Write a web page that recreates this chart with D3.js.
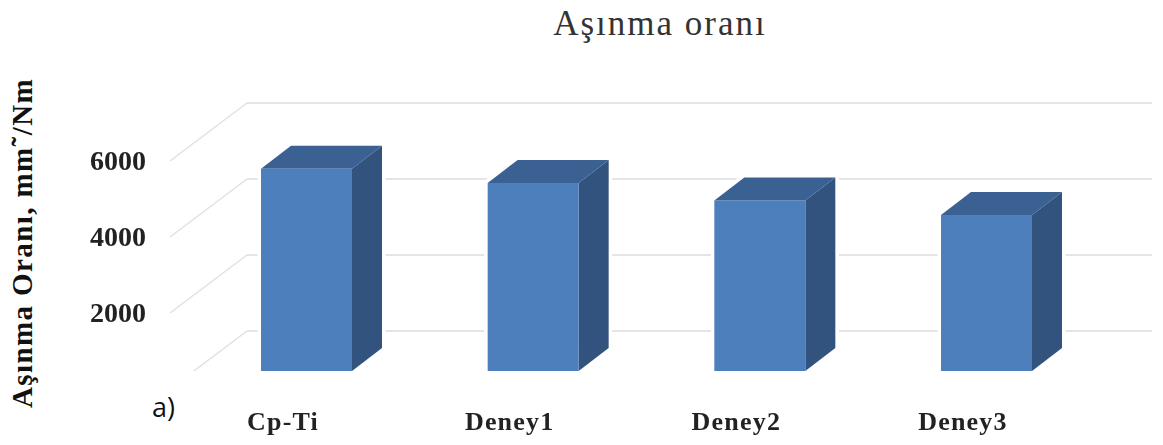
<!DOCTYPE html>
<html>
<head>
<meta charset="utf-8">
<script src="https://cdn.jsdelivr.net/npm/d3@7"></script>
<style>
body { margin: 0; background: #fff; }
svg { display: block; }
text { font-family: "Liberation Serif", serif; }
</style>
</head>
<body>
<div id="chart"></div>
<script>
var categories = ['Cp-Ti', 'Deney1', 'Deney2', 'Deney3'];
var wearRates = [5320, 4950, 4490, 4105];
var gridValues = [0, 2000, 4000, 6000];
var tickValues = [2000, 4000, 6000];

var width = 1163, height = 445;
var wallLeft = 247, wallRight = 1152;
var floorY = 371;
// 3d offsets: wall to front of the chart, and depth of one bar
var sideDx = -77, sideDy = 58;
var barDx = 30, barDy = -23;
var barWidth = 91;

var svg = d3.select('#chart')
    .append('svg')
    .attr('width', width)
    .attr('height', height);

var defs = svg.append('defs');
defs.append('filter').attr('id', 'soft')
    .append('feGaussianBlur').attr('stdDeviation', 0.45);
defs.append('clipPath')
    .attr('id', 'floorClip')
    .append('rect')
    .attr('width', width)
    .attr('height', floorY);

var yScale = d3.scaleLinear()
    .domain([0, 6000])
    .range([331, 103]);

var xScale = d3.scalePoint()
    .domain(categories)
    .range([306.5, 986.5]);

// grid on the back wall and on the side wall
var grid = svg.append('g')
    .attr('clip-path', 'url(#floorClip)')
    .attr('filter', 'url(#soft)');
grid.selectAll('.gridBack')
    .data(gridValues)
    .enter().append('line')
    .attr('class', 'gridBack')
    .attr('x1', wallLeft)
    .attr('x2', wallRight)
    .attr('y1', function (d) { return yScale(d); })
    .attr('y2', function (d) { return yScale(d); })
    .attr('stroke', '#dcdcdc')
    .attr('stroke-width', 1.6);
grid.selectAll('.gridSide')
    .data(gridValues)
    .enter().append('line')
    .attr('class', 'gridSide')
    .attr('x1', wallLeft)
    .attr('x2', wallLeft + sideDx)
    .attr('y1', function (d) { return yScale(d); })
    .attr('y2', function (d) { return yScale(d) + sideDy; })
    .attr('stroke', '#e0e0e0')
    .attr('stroke-width', 1.4);

var bars = svg.append('g')
    .attr('filter', 'url(#soft)')
    .selectAll('.bar')
    .data(wearRates)
    .enter().append('g')
    .attr('class', 'bar');

function barLeft(i) {
    return xScale(categories[i]) - barWidth / 2;
}
function barTop(d) {
    return floorY - (yScale(0) - yScale(d));
}

// white halo, the gridlines stop just short of the bars
bars.append('path')
    .attr('fill', '#fff')
    .attr('stroke', '#fff')
    .attr('stroke-width', 7)
    .attr('d', function (d, i) {
        var x = barLeft(i), t = barTop(d);
        return 'M' + x + ',' + t + 'L' + (x + barDx) + ',' + (t + barDy) +
            'L' + (x + barWidth + barDx) + ',' + (t + barDy) +
            'L' + (x + barWidth + barDx) + ',' + (floorY + barDy) +
            'L' + (x + barWidth) + ',' + floorY + 'L' + x + ',' + floorY + 'Z';
    });
bars.append('path')
    .attr('fill', '#33527e')
    .attr('d', function (d, i) {
        var x = barLeft(i) + barWidth, t = barTop(d);
        return 'M' + x + ',' + t + 'L' + (x + barDx) + ',' + (t + barDy) +
            'L' + (x + barDx) + ',' + (floorY + barDy) + 'L' + x + ',' + floorY + 'Z';
    });
bars.append('path')
    .attr('fill', '#3a6192')
    .attr('d', function (d, i) {
        var x = barLeft(i), t = barTop(d);
        return 'M' + x + ',' + t + 'L' + (x + barDx) + ',' + (t + barDy) +
            'L' + (x + barWidth + barDx) + ',' + (t + barDy) + 'L' + (x + barWidth) + ',' + t + 'Z';
    });
bars.append('rect')
    .attr('fill', '#4e7fbc')
    .attr('x', function (d, i) { return barLeft(i); })
    .attr('y', barTop)
    .attr('width', barWidth)
    .attr('height', function (d) { return floorY - barTop(d); });

// value axis sits on the front edge of the side wall
var yAxis = svg.append('g')
    .attr('transform', 'translate(146,' + sideDy + ')')
    .attr('filter', 'url(#soft)')
    .call(d3.axisLeft(yScale).tickValues(tickValues).tickFormat(d3.format('d')).tickSize(0).tickPadding(0));
yAxis.select('.domain').remove();
yAxis.selectAll('text')
    .attr('font-family', '"Liberation Serif", serif')
    .attr('font-size', 28)
    .attr('font-weight', 'bold')
    .attr('fill', '#222');

var xAxis = svg.append('g')
    .attr('transform', 'translate(-24,411.5)')
    .attr('filter', 'url(#soft)')
    .call(d3.axisBottom(xScale).tickSize(0).tickPadding(0));
xAxis.select('.domain').remove();
xAxis.selectAll('text')
    .attr('font-family', '"Liberation Serif", serif')
    .attr('font-size', 26)
    .attr('letter-spacing', 1.2)
    .attr('font-weight', 'bold')
    .attr('fill', '#222');

svg.append('text')
    .attr('x', 660)
    .attr('y', 35)
    .attr('text-anchor', 'middle')
    .attr('font-size', 35)
    .attr('letter-spacing', 2)
    .attr('fill', '#333')
    .text('Aşınma oranı');

svg.append('text')
    .attr('transform', 'translate(32,243) rotate(-90)')
    .attr('text-anchor', 'middle')
    .attr('font-size', 29)
    .attr('letter-spacing', 1.4)
    .attr('font-weight', 'bold')
    .attr('fill', '#111')
    .text('Aşınma Oranı, mm˜/Nm');

svg.append('text')
    .attr('x', 152)
    .attr('y', 417)
    .attr('font-size', 27)
    .attr('fill', '#111')
    .style('font-family', '"Open Sans", sans-serif')
    .text('a)');
</script>
</body>
</html>
